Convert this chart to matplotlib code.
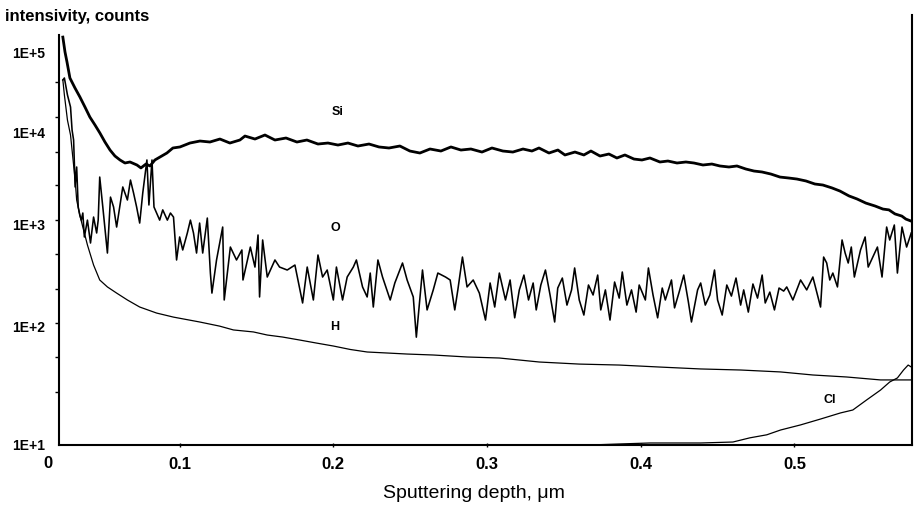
import numpy as np
import matplotlib

matplotlib.use("Agg")

import matplotlib.pyplot as plt
from matplotlib.ticker import FixedLocator, FixedFormatter, NullFormatter

FONT = ['Liberation Sans Narrow', 'Liberation Sans', 'DejaVu Sans']
W, H = 914, 508

# ---- data (depth in um, intensity in counts) ----
si_depth = [0.024, 0.0254, 0.0267, 0.0286, 0.0319, 0.0351, 0.0384, 0.0416, 0.0449, 0.0481,
            0.0514, 0.0547, 0.0579, 0.0612, 0.0644, 0.0677, 0.0722, 0.0748, 0.0781, 0.0807,
            0.0839, 0.0872, 0.0917, 0.0956, 0.1002, 0.1067, 0.1132, 0.1197, 0.1262, 0.1327,
            0.1392, 0.1425, 0.1490, 0.1555, 0.1620, 0.1692, 0.1763, 0.1828, 0.1900, 0.1965,
            0.2030, 0.2095, 0.2160, 0.2232, 0.2297, 0.2362, 0.2433, 0.2498, 0.2563, 0.2629,
            0.2700, 0.2765, 0.2830, 0.2895, 0.2967, 0.3032, 0.3103, 0.3168, 0.3234, 0.3292,
            0.3338, 0.3403, 0.3461, 0.3507, 0.3572, 0.3630, 0.3676, 0.3735, 0.3793, 0.3845,
            0.3897, 0.3956, 0.4008, 0.4060, 0.4125, 0.4177, 0.4236, 0.4294, 0.4346, 0.4405,
            0.4463, 0.4515, 0.4574, 0.4626, 0.4684, 0.4737, 0.4789, 0.4847, 0.4906, 0.4964,
            0.5016, 0.5075, 0.5133, 0.5185, 0.5244, 0.5296, 0.5355, 0.5407, 0.5465, 0.5524,
            0.5576, 0.5615, 0.5654, 0.5699, 0.5725, 0.5758]
si_counts = [158000, 103000, 77200, 48700, 36500, 28200, 21100, 15800, 12600, 10000,
             7980, 6530, 5620, 5090, 4720, 4840, 4490, 4170, 4600, 4380,
             5090, 5480, 6060, 6870, 7050, 7780, 8180, 7980, 8600, 7780,
             8390, 9270, 8600, 9510, 8390, 8820, 7980, 8390, 7590, 7780,
             7400, 7780, 7220, 7590, 7050, 6870, 7220, 6370, 6060, 6700,
             6370, 7050, 6530, 6700, 6210, 6870, 6370, 6210, 6700, 6370,
             6870, 6060, 6530, 5770, 6210, 5770, 6370, 5620, 5910, 5350,
             5770, 5210, 5090, 5350, 4840, 4960, 4720, 4840, 4720, 4490,
             4600, 4380, 4270, 4380, 4060, 3860, 3770, 3580, 3320, 3240,
             3160, 3010, 2790, 2720, 2530, 2340, 2070, 1920, 1730, 1610,
             1490, 1460, 1320, 1250, 1160, 1105]

o_depth = [0.024, 0.025, 0.027, 0.029, 0.030, 0.031, 0.032, 0.033, 0.034, 0.035,
           0.036, 0.037, 0.038, 0.040, 0.042, 0.044, 0.046, 0.047, 0.048, 0.050,
           0.053, 0.055, 0.057, 0.059, 0.061, 0.063, 0.066, 0.068, 0.070, 0.072,
           0.074, 0.076, 0.0787, 0.0800, 0.0820, 0.0833, 0.085, 0.087, 0.089, 0.092,
           0.094, 0.096, 0.098, 0.100, 0.102, 0.105, 0.107, 0.109, 0.111, 0.113,
           0.115, 0.118, 0.120, 0.121, 0.124, 0.128, 0.129, 0.133, 0.137, 0.1405,
           0.1412, 0.146, 0.149, 0.151, 0.152, 0.154, 0.157, 0.162, 0.165, 0.170,
           0.175, 0.180, 0.183, 0.187, 0.190, 0.193, 0.196, 0.200, 0.202, 0.206,
           0.209, 0.213, 0.215, 0.219, 0.222, 0.224, 0.226, 0.229, 0.232, 0.237,
           0.240, 0.245, 0.248, 0.252, 0.254, 0.258, 0.261, 0.265, 0.268, 0.273,
           0.276, 0.279, 0.281, 0.284, 0.287, 0.291, 0.295, 0.299, 0.302, 0.305,
           0.308, 0.312, 0.315, 0.318, 0.321, 0.324, 0.327, 0.330, 0.332, 0.335,
           0.338, 0.341, 0.344, 0.346, 0.349, 0.352, 0.355, 0.357, 0.360, 0.363,
           0.366, 0.369, 0.372, 0.374, 0.377, 0.380, 0.383, 0.386, 0.388, 0.391,
           0.394, 0.397, 0.399, 0.403, 0.405, 0.408, 0.411, 0.414, 0.416, 0.420,
           0.422, 0.425, 0.428, 0.431, 0.433, 0.437, 0.439, 0.442, 0.445, 0.448,
           0.450, 0.453, 0.456, 0.459, 0.462, 0.465, 0.467, 0.470, 0.473, 0.476,
           0.479, 0.481, 0.484, 0.487, 0.490, 0.493, 0.495, 0.499, 0.504, 0.508,
           0.512, 0.517, 0.519, 0.521, 0.523, 0.525, 0.528, 0.531, 0.533, 0.535,
           0.537, 0.539, 0.543, 0.546, 0.548, 0.551, 0.554, 0.557, 0.560, 0.562,
           0.565, 0.567, 0.570, 0.573, 0.576]
o_counts = [46000, 48700, 29900, 21100, 10900, 8390, 2590, 4270, 1570, 1290,
            1130, 1350, 763, 1130, 666, 1220, 835, 1130, 3320, 1570,
            531, 2010, 1570, 955, 1570, 2590, 1870, 3080, 2230, 1570,
            1050, 2230, 5090, 1650, 5090, 1570, 1350, 1130, 1460, 1130,
            1350, 1220, 454, 763, 569, 835, 1130, 835, 531, 1050,
            531, 1190, 338, 215, 454, 955, 184, 608, 454, 569,
            289, 608, 387, 798, 197, 713, 309, 454, 387, 362,
            405, 172, 387, 184, 508, 309, 362, 184, 387, 184,
            309, 387, 454, 247, 197, 338, 157, 454, 309, 184,
            270, 424, 289, 197, 82, 362, 147, 231, 338, 309,
            289, 147, 231, 485, 247, 289, 215, 117, 270, 157,
            338, 184, 289, 123, 231, 323, 184, 270, 147, 258,
            362, 206, 112, 241, 302, 164, 231, 379, 184, 131,
            258, 206, 323, 147, 231, 117, 276, 192, 346, 164,
            231, 140, 258, 184, 379, 206, 123, 241, 184, 289,
            154, 220, 323, 176, 112, 231, 270, 164, 206, 362,
            184, 131, 258, 201, 302, 164, 231, 140, 264, 192,
            323, 172, 220, 147, 241, 225, 247, 184, 289, 231,
            309, 157, 485, 424, 289, 338, 247, 713, 531, 424,
            608, 309, 569, 763, 387, 485, 608, 309, 955, 713,
            1000, 338, 955, 608, 835]

h_depth = [0.024, 0.025, 0.027, 0.029, 0.031, 0.032, 0.033, 0.035, 0.037, 0.040,
           0.044, 0.048, 0.053, 0.059, 0.066, 0.074, 0.085, 0.096, 0.113, 0.126,
           0.135, 0.148, 0.157, 0.167, 0.178, 0.189, 0.200, 0.211, 0.222, 0.235,
           0.248, 0.265, 0.287, 0.308, 0.334, 0.360, 0.386, 0.412, 0.439, 0.465,
           0.491, 0.512, 0.534, 0.556, 0.577]
h_counts = [46000, 29900, 14500, 9510, 4490, 3080, 1870, 1290, 955, 637,
            405, 289, 247, 215, 184, 157, 137, 125, 112, 102,
            94.4, 90.8, 85.5, 82.2, 77.6, 73.1, 69.0, 64.5, 61.4, 60.2,
            59.0, 57.9, 55.7, 54.6, 50.5, 48.5, 47.6, 45.8, 44.1, 43.2,
            41.6, 39.2, 37.7, 35.6, 35.6]

cl_depth = [0.367, 0.386, 0.406, 0.439, 0.460, 0.471, 0.482, 0.491, 0.504, 0.517,
            0.530, 0.538, 0.547, 0.556, 0.562, 0.567, 0.571, 0.574, 0.577]
cl_counts = [10.0, 10.2, 10.4, 10.4, 10.6, 11.5, 12.2, 13.4, 14.8, 16.6,
             18.7, 19.8, 24.1, 29.2, 34.2, 37.0, 43.2, 47.6, 45.0]

decade_values = [1e1, 1e2, 1e3, 1e4, 1e5]
decade_labels = ['1E+1', '1E+2', '1E+3', '1E+4', '1E+5']
depth_ticks = [0.1, 0.2, 0.3, 0.4, 0.5]

# the scanned log axis is not evenly spaced: height (px above x axis) of each decade
AX_LOG = [0, 1, 2, 3, 4, 5, 6]
AX_PX = [-118, 0, 118, 220, 312, 392, 472]


def fwd(v):
    v = np.clip(np.asarray(v, dtype=float), 1e-6, None)
    return np.interp(np.log10(v), AX_LOG, AX_PX)


def inv(h):
    return 10 ** np.interp(np.asarray(h, dtype=float), AX_PX, AX_LOG)


def fpos(x, y):
    return x / W, 1 - y / H


fig = plt.figure(figsize=(W / 100, H / 100), dpi=100, facecolor='white')
ax = fig.add_axes([59 / W, 1 - 445 / H, (912 - 59) / W, (445 - 35) / H])
ax.set_yscale('function', functions=(fwd, inv))

ax.plot(h_depth, h_counts, color='black', lw=0.9)
ax.plot(cl_depth, cl_counts, color='black', lw=0.9)
ax.plot(o_depth, o_counts, color='black', lw=1.15)
ax.plot(si_depth, si_counts, color='black', lw=2.0)

ax.set_xlim(0.0215, 0.5765)
ax.set_ylim(10, inv(410))

ax.yaxis.set_major_locator(FixedLocator(decade_values))
ax.yaxis.set_major_formatter(FixedFormatter(decade_labels))
ax.yaxis.set_minor_locator(FixedLocator(inv([363, 328, 293, 260, 225, 191, 156, 122, 88, 53])))
ax.yaxis.set_minor_formatter(NullFormatter())
ax.tick_params(axis='y', which='major', length=0, pad=10)
ax.tick_params(axis='y', which='minor', length=3, width=1, direction='out')

ax.set_xticks(depth_ticks)
ax.set_xticklabels([f"{t:.1f}" for t in depth_ticks])
ax.tick_params(axis='x', which='major', length=3, width=1, direction='inout', pad=7)

for lab in ax.get_yticklabels():
    lab.set_fontfamily(FONT)
    lab.set_fontweight('bold')
    lab.set_fontsize(10)
for lab in ax.get_xticklabels():
    lab.set_fontfamily(FONT)
    lab.set_fontweight('bold')
    lab.set_fontsize(12)

for side in ('top', 'right'):
    ax.spines[side].set_visible(False)
for side in ('left', 'bottom'):
    ax.spines[side].set_linewidth(1.5)

# right frame line runs higher than the plot area
ax.plot([1, 1], [0, (445 - 15) / (445 - 35)], transform=ax.transAxes,
        color='black', lw=1.5, clip_on=False)

fig.text(*fpos(48, 463), '0', ha='center', va='center', family=FONT,
         fontweight='bold', fontsize=12)
fig.text(*fpos(5, 17), 'intensivity, counts', ha='left', va='center', family=FONT,
         fontweight='bold', fontsize=12)
fig.text(*fpos(474, 493), 'Sputtering depth, μm', ha='center', va='center',
         family=FONT, fontsize=14)

for name, x, y in [('Si', 338, 112), ('O', 335, 228), ('H', 335, 327), ('Cl', 830, 400)]:
    fig.text(*fpos(x, y), name, ha='center', va='center', family=FONT,
             fontweight='bold', fontsize=9)

fig.savefig('out.png', dpi=100, facecolor='white')
